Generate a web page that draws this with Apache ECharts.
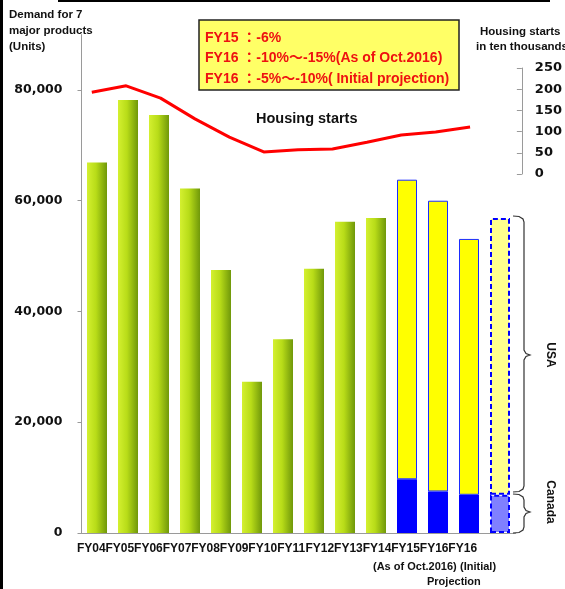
<!DOCTYPE html>
<html style="height: 100%">
  <head>
    <meta charset="utf-8" />
  </head>
  <body style="height: 100%; margin: 0; background: #fff">
    <div id="container" style="width: 565px; height: 589px"></div>

    <script src="https://cdn.jsdelivr.net/npm/echarts@6/dist/echarts.min.js"></script>
    <script type="text/javascript">
      // categories (the last two are both FY16: As of Oct.2016 / Initial projection)
      var categories = ["FY04", "FY05", "FY06", "FY07", "FY08", "FY09", "FY10",
        "FY11", "FY12", "FY13", "FY14", "FY15", "FY16", "FY16"];
      // demand for 7 major products (units)
      var totalDemand = [66900, 78200, 75500, 62200, 47500, 27300, 35000,
        47700, 56200, 56900, null, null, null, null];
      var canadaDemand = [null, null, null, null, null, null, null,
        null, null, null, 9700, 7500, 6900, 6900];
      var usaDemand = [null, null, null, null, null, null, null,
        null, null, null, 54100, 52500, 46200, 50000];
      // US housing starts, ten thousands (FY04 - FY15)
      var housingYears = categories.slice(0, 12);
      var housingStarts = [193, 208, 179, 130, 87, 52, 57, 59, 75, 92, 99, 111];
      var leftTicks = [0, 20000, 40000, 60000, 80000];

      var projIndex = 13;
      var boldFont = '"Liberation Sans", Arial, "Noto Sans CJK JP", sans-serif';
      var numFont = '"DejaVu Sans", Verdana, sans-serif';

      var dom = document.getElementById("container");
      var myChart = echarts.init(dom, null, { renderer: "canvas" });

      var greenFill = {
        type: "linear", x: 0, y: 0, x2: 1, y2: 0,
        colorStops: [
          { offset: 0, color: "#d4f030" },
          { offset: 0.45, color: "#b8dc18" },
          { offset: 1, color: "#70980a" },
        ],
      };

      function styled(arr, normal, special) {
        return arr.map(function (v, i) {
          if (i === projIndex && v != null) {
            return { value: v, itemStyle: special };
          }
          return v == null ? null : { value: v, itemStyle: normal };
        });
      }

      function txt(text, x, y, font, extra) {
        var el = {
          type: "text",
          x: x,
          y: y,
          z: 100,
          style: {
            text: text,
            font: font,
            fill: "#111",
            textAlign: "left",
            textVerticalAlign: "middle",
          },
        };
        if (extra) {
          for (var k in extra) el.style[k] = extra[k];
        }
        return el;
      }

      function brace(top, mid, bottom) {
        return {
          type: "polyline",
          z: 100,
          shape: {
            points: [[513, top], [519, top + 0.5], [523, top + 3], [524, top + 6],
              [524, mid - 5], [526, mid - 1.5], [530, mid], [526, mid + 1.5], [524, mid + 5],
              [524, bottom - 6], [523, bottom - 3], [519, bottom - 0.5], [513, bottom]],
          },
          style: { fill: null, stroke: "#333", lineWidth: 1.2 },
        };
      }

      var usaText = txt("USA", 550, 355, "bold 12px " + boldFont, { textAlign: "center" });
      usaText.rotation = -Math.PI / 2;
      var canadaText = txt("Canada", 550, 502, "bold 12px " + boldFont, { textAlign: "center" });
      canadaText.rotation = -Math.PI / 2;

      var option = {
        animation: false,
        backgroundColor: "#fff",
        grid: [
          { left: 81.5, right: 49.5, top: 34.6, bottom: 56 },
          { left: 74.6, right: 72.6, top: 68, height: 106 },
          { left: 77, right: 88, top: 34.6, bottom: 56 },
        ],
        xAxis: [
          {
            type: "category",
            gridIndex: 0,
            data: categories,
            axisLine: { lineStyle: { color: "#9a9a9a", width: 1 } },
            axisTick: { length: 4, lineStyle: { color: "#9a9a9a" } },
            axisLabel: { show: false },
          },
          {
            type: "category",
            gridIndex: 1,
            data: housingYears,
            show: false,
          },
          {
            type: "category",
            gridIndex: 2,
            data: categories,
            axisLine: { show: false },
            axisTick: { show: false },
            axisLabel: {
              interval: 0,
              margin: 10,
              color: "#111",
              fontWeight: "bold",
              fontSize: 12,
              fontFamily: boldFont,
            },
          },
        ],
        yAxis: [
          {
            type: "value",
            gridIndex: 0,
            min: 0,
            max: 90000,
            interval: 10000,
            splitLine: { show: false },
            axisLine: { show: true, lineStyle: { color: "#9a9a9a" } },
            axisTick: { show: true, length: 4, customValues: leftTicks, lineStyle: { color: "#9a9a9a" } },
            axisLabel: {
              customValues: leftTicks,
              margin: 19,
              color: "#111",
              fontWeight: "bold",
              fontSize: 12.5,
              fontFamily: numFont,
              formatter: function (v) {
                return String(v).replace(/\B(?=(\d{3})+(?!\d))/g, ",");
              },
            },
          },
          {
            type: "value",
            gridIndex: 1,
            position: "right",
            offset: 34.6,
            min: 0,
            max: 250,
            interval: 50,
            splitLine: { show: false },
            axisLine: { show: true, lineStyle: { color: "#9a9a9a" } },
            axisTick: { show: true, inside: true, length: 5, lineStyle: { color: "#9a9a9a" } },
            axisLabel: {
              margin: 13,
              color: "#111",
              fontWeight: "bold",
              fontSize: 13,
              fontFamily: numFont,
            },
          },
          { type: "value", gridIndex: 2, show: false },
        ],
        series: [
          {
            name: "Demand",
            type: "bar",
            xAxisIndex: 0,
            yAxisIndex: 0,
            barWidth: 20,
            stack: "d",
            data: totalDemand,
            itemStyle: { color: greenFill },
          },
          {
            name: "Canada",
            type: "bar",
            xAxisIndex: 0,
            yAxisIndex: 0,
            barWidth: 20,
            stack: "d",
            data: styled(
              canadaDemand,
              { color: "#0000ff" },
              { color: "#8080ff", borderColor: "#0000ff", borderWidth: 2, borderType: [5, 3] }
            ),
          },
          {
            name: "USA",
            type: "bar",
            xAxisIndex: 0,
            yAxisIndex: 0,
            barWidth: 20,
            stack: "d",
            data: styled(
              usaDemand,
              { color: "#ffff00", borderColor: "#1a2cff", borderWidth: 1 },
              { color: "#ffff8e", borderColor: "#0000ff", borderWidth: 2, borderType: [5, 3] }
            ),
          },
          {
            name: "Housing starts",
            type: "line",
            xAxisIndex: 1,
            yAxisIndex: 1,
            data: housingStarts,
            symbol: "none",
            lineStyle: { color: "#ff0000", width: 3 },
            z: 5,
          },
        ],
        graphic: [
          { type: "rect", shape: { x: 0, y: 0, width: 3, height: 589 }, style: { fill: "#000" }, z: 100 },
          { type: "rect", shape: { x: 58, y: 0, width: 492, height: 2 }, style: { fill: "#000" }, z: 100 },
          // left axis title
          txt("Demand for 7", 9, 15, "bold 11.5px " + boldFont),
          txt("major products", 9, 31, "bold 11.5px " + boldFont),
          txt("(Units)", 9, 47, "bold 11.5px " + boldFont),
          // right axis title
          txt("Housing starts", 480, 32, "bold 11.5px " + boldFont),
          txt("in ten thousands", 476, 47, "bold 11.5px " + boldFont),
          // yellow note box
          {
            type: "rect",
            z: 99,
            shape: { x: 199, y: 20, width: 260, height: 70 },
            style: { fill: "#ffff66", stroke: "#222", lineWidth: 1.5 },
          },
          txt("FY15 ：-6%", 205, 38, "bold 14px " + boldFont, { fill: "#ee1111" }),
          txt("FY16 ：-10%～-15%(As of Oct.2016)", 205, 58, "bold 14px " + boldFont, { fill: "#ee1111" }),
          txt("FY16 ：-5%～-10%( Initial projection)", 205, 79, "bold 14px " + boldFont, { fill: "#ee1111" }),
          txt("Housing starts", 256, 119, "bold 14.5px " + boldFont),
          // extra lines under the last two labels
          txt("(As of Oct.2016)", 373, 567, "bold 11px " + boldFont),
          txt("(Initial)", 460, 567, "bold 11px " + boldFont),
          txt("Projection", 427, 582, "bold 11px " + boldFont),
          // braces
          brace(216, 355, 492),
          brace(494, 512, 533),
          usaText,
          canadaText,
        ],
      };

      if (option && typeof option === "object") {
        myChart.setOption(option);
      }
    </script>
  </body>
</html>
